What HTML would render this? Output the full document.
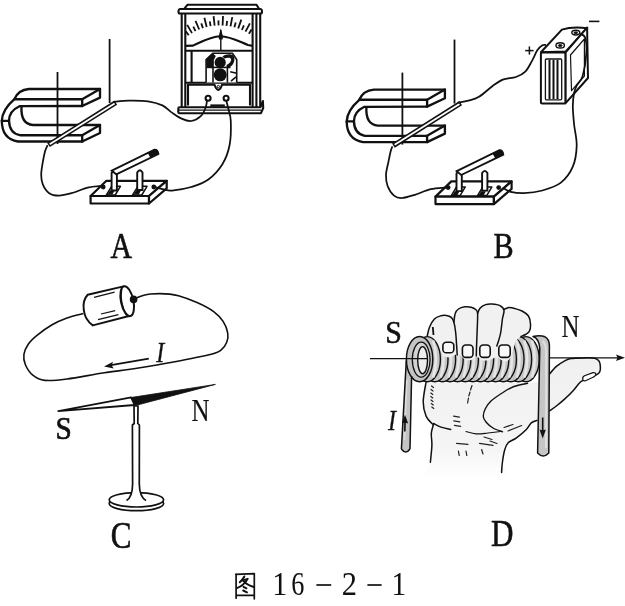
<!DOCTYPE html>
<html><head><meta charset="utf-8"><style>
html,body{margin:0;padding:0;background:#fff;}
svg{display:block;will-change:transform;}
text{font-family:"Liberation Serif",serif;}
</style></head><body>
<svg width="625" height="606" viewBox="0 0 625 606">
<g id="pa">
<g fill="none" stroke="#111" stroke-width="2.35" stroke-linejoin="round" stroke-linecap="round">
<path d="M100,89 L29,89 Q18,90 14.4,99.2 Q2,110 1.8,121 Q2,139 18,141.5 L82.5,141.5"/>
<path d="M14.4,99.2 L82.2,99.2"/>
<path d="M82.2,99.2 L100,89 L100,97.6 L82.2,106 Z"/>
<path d="M82.2,106 L19.5,106.2 Q9,111 9,120.8 Q9.5,133.5 20,135.2 L82.2,135.2"/>
<path d="M21.5,106.5 Q20.5,124 33,125 L100,125"/>
<path d="M82.2,135.2 L100,125 L100,133 L82.2,141.5 Z"/>
<path d="M1.8,120.8 L9,120.8"/>
</g>
<g stroke="#111" stroke-width="1.8"><line x1="57.5" y1="72" x2="57.5" y2="144"/><line x1="109.6" y1="39" x2="109.6" y2="103"/></g>
<line x1="115.8" y1="102.6" x2="48.5" y2="145" stroke="#111" stroke-width="5" />
<line x1="114.6" y1="103.4" x2="49.7" y2="144.2" stroke="#fff" stroke-width="1.8" />
<g fill="#fff" stroke="#111" stroke-width="2.2" stroke-linejoin="round">
<path d="M106.4,180.8 L166.7,180.8 L149,196 L90.6,196 Z"/>
<path d="M90.6,196 L149,196 L149,203.5 L90.6,203.5 Z"/>
<path d="M149,196 L166.7,180.8 L166.7,188.3 L149,203.5 Z"/>
</g>
<g fill="#fff" stroke="#111" stroke-width="1.5" stroke-linejoin="round"><path d="M106.4,195 L111.6,186.3 L120.4,186.3 L115.2,195 Z"/><path d="M132.6,195 L137.9,186.3 L147,186.3 L141.8,195 Z"/></g>
<g fill="#111"><path d="M107.6,194.6 L109.8,190.6 L114.6,190.6 L112.4,194.6 Z"/><path d="M133.8,194.6 L136,190.6 L141,190.6 L138.8,194.6 Z"/></g>
<g fill="#fff" stroke="#111" stroke-width="1.9">
<path d="M111.6,190.5 L111.6,173 Q114.2,168.6 116.9,173 L116.9,190.5 Z"/>
<path d="M137.2,190 L137.2,172.5 Q139.9,168 142.5,172.5 L142.5,190 Z"/>
<path d="M111.8,170.6 L154.5,149.6 Q157.8,149.5 158.4,154 L116.3,174.4 Z"/>
</g>
<path d="M147.6,152.8 L155.2,149.2 Q158.2,149.6 158.6,154 L150.5,158 Z" fill="#111"/>
<circle cx="103.2" cy="187" r="2.4" fill="#111"/><circle cx="153.8" cy="187" r="2.4" fill="#111"/>
</g>
<g fill="none" stroke="#111" stroke-width="2.1" stroke-linejoin="round">
<path d="M184.2,8.8 L187.4,4.8 L256.5,4.8 L259,8.8" fill="#fff"/>
<path d="M180,9 L260.5,9 Q262,9.2 262,11 L262,12 Q262,13.5 260.5,13.5 L180,13.5 Q178.5,13.5 178.5,12 L178.5,11 Q178.5,9.2 180,9 Z" fill="#fff"/>
<line x1="181.7" y1="13.5" x2="181.7" y2="107"/>
<line x1="185.3" y1="13.5" x2="185.3" y2="107"/>
<line x1="252.6" y1="13.5" x2="252.6" y2="107"/>
<line x1="256.4" y1="13.5" x2="256.4" y2="107"/>
<line x1="260.2" y1="13.5" x2="260.2" y2="107"/>
<path d="M185.3,45.9 L193,45.6 C200,42.5 210,36.5 220.4,36.2 C231,36.5 240,42 248,45 L252.6,45.9"/>
<line x1="185.3" y1="50.8" x2="252.6" y2="50.8"/>
<line x1="191.6" y1="50.8" x2="191.6" y2="82.6"/>
<line x1="185.3" y1="82.8" x2="252.6" y2="82.8"/>
<path d="M188,105.5 L188,84.8 L214.5,84.8 Q216,89.5 218.3,90 Q220.6,89.5 222,84.8 L250,84.8 L250,105.5"/>
<circle cx="218.3" cy="86.6" r="1.2" stroke-width="1"/>
<circle cx="208.1" cy="98.3" r="2.5"/><circle cx="226.1" cy="98.3" r="2.5"/>
<path d="M179.5,107.2 L260.5,107.2 L262.9,101 L263.2,108 L261,113.2 L179.5,113.2 Q178.3,113.2 178.3,112 L178.3,108.4 Q178.3,107.2 179.5,107.2 Z" fill="#fff"/>
<line x1="178.5" y1="110.2" x2="261" y2="110.2" stroke-width="1.3"/>
</g>
<rect x="210.3" y="104.4" width="14.5" height="2.4" fill="#111"/>
<g stroke="#111" stroke-width="1.6" stroke-linejoin="round" fill="none">
<path d="M206.1,82.6 L206.1,59.5 L213,53.2 L232.4,53.2 L236.7,59.5 L236.7,82.6" fill="#fff"/>
<line x1="213" y1="60.5" x2="213" y2="82.6"/><line x1="227.4" y1="67.4" x2="227.4" y2="82.6"/>
<line x1="207" y1="67.4" x2="230.5" y2="67.4"/>
<path d="M230.2,71.8 L236.7,73.2 M231,81.1 L236,76.8"/>
</g>
<g fill="#111">
<path d="M206.3,59.5 L213,53.4 L215.8,56 L213.6,60.5 L212.8,68.2 L206.6,67.5 Z"/>
<path d="M222.5,56.5 C225,54.5 230,53.6 232.6,55 C235,57 235,61 233,64 C231.5,66.5 229,67.8 226.8,67.8 L226.5,65 C229,64 231,62 231.2,59.5 C231,57.5 228,57 224.5,58.5 Z"/>
<circle cx="220.2" cy="62.4" r="5.6"/>
<circle cx="220.2" cy="74.8" r="6.5"/>
</g>
<g stroke="#111" stroke-width="1.8"><line x1="188.7" y1="35.3" x2="185.8" y2="31.2"/><line x1="192.0" y1="33.1" x2="187.2" y2="24.9"/><line x1="195.5" y1="31.2" x2="193.3" y2="26.7"/><line x1="199.2" y1="29.5" x2="195.5" y2="20.8"/><line x1="202.9" y1="28.1" x2="201.3" y2="23.4"/><line x1="206.7" y1="27.0" x2="204.4" y2="17.8"/><line x1="210.6" y1="26.2" x2="209.8" y2="21.3"/><line x1="214.6" y1="25.7" x2="213.6" y2="16.2"/><line x1="218.6" y1="25.4" x2="218.4" y2="20.4"/><line x1="222.6" y1="25.5" x2="223.0" y2="16.0"/><line x1="226.5" y1="25.8" x2="227.1" y2="20.8"/><line x1="230.5" y1="26.4" x2="232.3" y2="17.1"/><line x1="234.4" y1="27.3" x2="235.7" y2="22.5"/><line x1="238.2" y1="28.5" x2="241.3" y2="19.6"/><line x1="241.9" y1="30.0" x2="243.9" y2="25.4"/><line x1="245.5" y1="31.7" x2="249.9" y2="23.3"/><line x1="248.9" y1="33.7" x2="251.6" y2="29.5"/></g>
<line x1="220.8" y1="30" x2="220.8" y2="50.5" stroke="#111" stroke-width="1.4"/>
<path d="M220.8,28.2 L223,36.5 L222.6,39.6 L219,39.6 L218.6,36.5 Z" fill="#111"/>
<g fill="none" stroke="#111" stroke-width="1.75"><path d="M113.2,101.8 C115.8,101.6 123.0,100.7 128.8,100.6 C134.6,100.5 142.4,100.5 148.0,101.3 C153.6,102.1 158.4,103.5 162.4,105.4 C166.4,107.3 168.8,110.4 172.0,112.6 C175.2,114.8 178.4,117.2 181.6,118.6 C184.8,120.0 188.0,121.4 191.2,121.0 C194.4,120.6 198.4,118.4 200.8,116.2 C203.2,114.0 204.6,110.4 205.6,107.8 C206.6,105.2 206.8,101.8 207.0,100.6"/><path d="M226.2,100.6 C226.6,102.0 227.6,105.6 228.4,109.0 C229.2,112.4 230.6,115.0 230.8,121.0 C231.0,127.0 231.0,137.8 229.6,145.0 C228.2,152.2 226.0,158.4 222.4,164.2 C218.8,170.0 213.2,176.0 208.0,179.8 C202.8,183.6 197.2,185.2 191.2,187.0 C185.2,188.8 176.6,190.2 172.0,190.6 C167.4,191.0 166.3,190.0 163.6,189.4 C160.9,188.8 157.1,187.6 155.8,187.2"/><path d="M47.6,145.2 C47.2,146.1 46.0,148.0 45.2,150.8 C44.4,153.6 43.5,158.0 42.8,162.0 C42.1,166.0 41.2,171.1 41.2,174.8 C41.2,178.5 41.5,181.3 42.8,184.4 C44.1,187.5 46.5,191.3 49.2,193.2 C51.9,195.1 55.1,195.6 58.8,195.6 C62.5,195.6 66.8,194.5 71.6,193.2 C76.4,191.9 82.8,188.8 87.6,187.6 C92.4,186.4 97.8,186.2 100.4,186.0 C103.0,185.8 102.9,186.3 103.4,186.4"/></g>
<use href="#pa" transform="translate(344.9,0.6)"/>
<g stroke="#111" stroke-width="2.0" stroke-linejoin="round" fill="#fff">
<path d="M540.9,52.2 L561.9,29.6 Q572,26.4 587.3,28.2 L565.6,51.6 Z"/>
<path d="M565.4,52.6 L587.1,27.5 L588,78 L565.4,103.4 Z"/>
<path d="M570.5,55 L584.4,39 L584.4,76.2 L571.5,90.7 Z" fill="none" stroke-width="1.2"/>
<rect x="540.9" y="52.6" width="24.5" height="50.8" rx="1.5"/>
<rect x="545.4" y="59" width="16.3" height="40.8" rx="1" fill="none" stroke-width="1.3"/>
<line x1="549.5" y1="60" x2="549.5" y2="99"/>
<line x1="553.5" y1="60" x2="553.5" y2="99"/>
<line x1="557.5" y1="60" x2="557.5" y2="99"/>
<ellipse cx="560.2" cy="45.4" rx="4.2" ry="2.6" fill="#fff" stroke-width="1.4"/>
<ellipse cx="560.2" cy="45.6" rx="1.9" ry="1.1" fill="#111" stroke-width="0.8"/>
<ellipse cx="575.8" cy="32.6" rx="4" ry="2.4" fill="#fff" stroke-width="1.4"/>
<ellipse cx="575.8" cy="32.8" rx="1.8" ry="1" fill="#111" stroke-width="0.8"/>
</g>
<g stroke="#111" stroke-width="1.5"><line x1="525.2" y1="50.6" x2="533.6" y2="50.6"/><line x1="529.4" y1="46.4" x2="529.4" y2="54.6"/><line x1="589" y1="21.4" x2="599.4" y2="21.4" stroke-width="1.6"/></g>
<g fill="none" stroke="#111" stroke-width="1.75"><path d="M457.9,102.6 C459.7,102.3 465.0,101.7 468.5,100.7 C472.0,99.7 475.0,99.2 479.0,96.8 C483.0,94.4 488.3,89.1 492.3,86.2 C496.3,83.3 498.9,81.1 502.8,79.6 C506.8,78.1 512.2,78.3 516.0,77.0 C519.8,75.7 522.6,74.4 525.3,71.7 C527.9,69.0 529.9,64.6 531.9,61.1 C533.9,57.6 535.4,53.2 537.1,50.6 C538.9,48.0 540.9,46.2 542.4,45.3 C543.9,44.4 545.4,45.0 546.0,45.0"/><path d="M580.0,33.6 C580.9,34.3 584.3,34.5 585.3,38.0 C586.3,41.5 586.7,48.0 586.2,54.4 C585.8,60.8 584.1,71.1 582.6,76.2 C581.1,81.3 578.4,82.2 577.0,85.0 C575.6,87.8 574.8,89.3 574.1,92.8 C573.4,96.3 572.8,100.7 572.8,106.0 C572.8,111.3 573.5,117.9 574.1,124.5 C574.8,131.1 576.9,138.6 576.7,145.6 C576.5,152.6 575.4,160.5 572.8,166.7 C570.2,172.9 566.0,178.6 560.9,182.6 C555.8,186.6 548.6,188.7 542.4,190.5 C536.2,192.3 529.2,193.0 523.9,193.2 C518.6,193.4 514.2,192.7 510.7,191.8 C507.2,190.9 504.1,188.6 502.8,187.9"/><path d="M392.4,146.4 C392.1,147.1 391.5,148.2 390.8,150.8 C390.1,153.4 389.2,158.0 388.4,162.0 C387.6,166.0 386.1,170.8 386.0,174.8 C385.9,178.8 386.3,182.5 387.6,186.0 C388.9,189.5 391.6,193.6 394.0,195.6 C396.4,197.6 398.5,198.1 402.0,198.0 C405.5,197.9 410.0,196.3 414.8,194.8 C419.6,193.3 425.7,190.4 430.8,189.2 C435.9,188.0 442.3,187.9 445.2,187.6 C448.1,187.3 447.9,187.6 448.4,187.6"/></g>
<text transform="translate(110.4,258.4) scale(0.83,1)" font-family="Liberation Serif" font-size="36" fill="#111" stroke="#111" stroke-width="0.6">A</text>
<text transform="translate(493.4,258.4) scale(0.84,1)" font-family="Liberation Serif" font-size="36" fill="#111" stroke="#111" stroke-width="0.6">B</text>
<text transform="translate(110.8,548.0) scale(0.84,1)" font-family="Liberation Serif" font-size="37" fill="#111" stroke="#111" stroke-width="0.6">C</text>
<text transform="translate(491.0,546.4) scale(0.84,1)" font-family="Liberation Serif" font-size="37" fill="#111" stroke="#111" stroke-width="0.6">D</text>
<path d="M132.7,299.4 C135.6,298.5 142.7,294.6 150.3,294.0 C157.9,293.4 167.9,292.9 178.5,295.8 C189.1,298.8 205.5,305.5 213.7,311.7 C221.9,317.9 226.5,326.4 227.7,332.8 C228.9,339.2 226.0,346.3 220.7,350.4 C215.4,354.5 209.4,354.6 196.0,357.5 C182.6,360.4 155.3,365.2 140.0,367.8 C124.7,370.4 116.4,370.9 104.2,372.8 C92.0,374.7 76.9,377.7 67.0,379.0 C57.1,380.3 50.4,381.0 44.7,380.4 C39.0,379.8 36.0,377.8 32.8,375.2 C29.6,372.6 26.9,368.3 25.4,364.8 C23.9,361.3 23.4,357.9 23.9,354.4 C24.4,350.9 26.2,347.2 28.4,344.0 C30.6,340.8 33.3,338.3 37.3,335.1 C41.2,331.9 47.1,327.6 52.1,324.7 C57.1,321.8 61.8,319.9 67.0,318.0 C72.2,316.1 80.6,314.3 83.3,313.6" fill="none" stroke="#111" stroke-width="1.6"/>
<g stroke="#111" stroke-width="2.0" fill="#fff" stroke-linejoin="round">
<path d="M87.7,294.7 L123.5,286.4 L130,315.8 L92.8,325.4 Q85,320 83.8,310 Q82.5,300 87.7,294.7 Z"/>
<ellipse cx="127.2" cy="301.2" rx="6.2" ry="15.2" transform="rotate(-12 127.2 301.2)"/>
<path d="M121.8,288.5 Q119.5,303 126.5,315.2" fill="none" stroke-width="1.2"/>
</g>
<g stroke="#111" stroke-width="1.2"><line x1="94" y1="297.3" x2="114.6" y2="292.2"/><line x1="101" y1="314" x2="115.2" y2="310.7"/><line x1="98" y1="319.7" x2="118.4" y2="314.6"/></g>
<circle cx="133.6" cy="299.4" r="3.8" fill="#111"/>
<line x1="148.8" y1="358.7" x2="108" y2="365.7" stroke="#111" stroke-width="1.8"/>
<path d="M104,366.4 L113.2,361.8 L111.5,365.2 L113.8,368.6 Z" fill="#111"/>
<text transform="translate(156.3,361.8) scale(0.8,1)" font-family="Liberation Serif" font-size="30" font-style="italic" fill="#111" stroke="#111" stroke-width="0.3">I</text>
<path d="M58.3,411.1 L131.2,397.4 L134.5,405 Z" fill="#fff" stroke="#111" stroke-width="1.8" stroke-linejoin="round"/>
<path d="M130.5,397.6 L215.4,384.4 L135.5,405.5 Z" fill="#111" stroke="#111" stroke-width="0.8" stroke-linejoin="round"/>
<g stroke="#111" stroke-width="1.7" fill="#fff">
<ellipse cx="136.4" cy="503.5" rx="27.2" ry="7.2"/>
<ellipse cx="136.4" cy="499.8" rx="27.2" ry="7.2"/>
<path d="M126.5,500.5 Q132.5,497 132.6,484 L132.4,425 L134.2,423.5 L134,406 L138,406 L137.8,423.5 L139.4,425 L139.3,484 Q139.5,497 146,500.5" />
</g>
<text transform="translate(55.6,438.8) scale(0.93,1)" font-family="Liberation Serif" font-size="31.5" fill="#111" stroke="#111" stroke-width="0.7">S</text>
<text transform="translate(191.6,421.4) scale(0.79,1)" font-family="Liberation Serif" font-size="31.5" fill="#111" stroke="#111" stroke-width="0.2">N</text>
<text transform="translate(272.3,595.1) scale(0.87,1)" font-family="Liberation Serif" font-size="34.6" fill="#111">1</text><text transform="translate(291.2,595.1) scale(0.76,1)" font-family="Liberation Serif" font-size="34.6" fill="#111">6</text><text transform="translate(341.8,595.1) scale(0.88,1)" font-family="Liberation Serif" font-size="34.6" fill="#111">2</text><text transform="translate(391.5,595.1) scale(0.85,1)" font-family="Liberation Serif" font-size="34.6" fill="#111">1</text>
<g stroke="#111" stroke-width="1.7"><line x1="316.4" y1="585" x2="331.2" y2="585"/><line x1="367.4" y1="585" x2="381.6" y2="585"/></g>
<g fill="none" stroke="#111" stroke-width="1.7" stroke-linecap="round" stroke-linejoin="round"><path d="M236.1,574.2 L236.1,598.2 M235.6,574.3 L254.3,573.6 L254.3,598.8 M236.1,595.3 L254.3,595.3"/><path d="M244.3,576.5 Q242.5,580 239.8,582.3" stroke-width="2"/><path d="M241.6,580.6 L247.7,578.8 Q244,585.5 236.9,588.2" stroke-width="1.9"/><path d="M243.4,580.8 Q247,585 253.8,587" stroke-width="1.9"/><path d="M243.5,586.8 L246.4,588.3 M243.2,590.5 L247,592.3" stroke-width="2"/></g>
<defs><linearGradient id="hg" x1="0" y1="0" x2="0" y2="1"><stop offset="0" stop-color="#f0f0f0"/><stop offset="0.75" stop-color="#f5f5f5"/><stop offset="1" stop-color="#ffffff"/></linearGradient></defs>
<path d="M426.1,384.0 C423.3,387.1 423.2,396.3 423.2,401.7 C423.2,407.1 424.4,412.2 426.1,416.1 C427.8,420.0 432.4,421.9 433.3,424.8 C434.2,427.7 431.5,430.0 431.3,433.4 C431.1,436.8 432.0,440.1 431.9,444.9 C431.8,449.7 430.6,456.7 430.4,462.2 C430.2,467.7 418.6,475.4 430.5,478.0 C442.4,480.6 489.6,480.6 501.6,478.0 C513.6,475.4 501.8,467.3 502.4,462.5 C502.9,457.7 503.9,452.6 504.9,449.3 C505.9,446.0 506.3,444.6 508.2,442.7 C510.1,440.8 513.5,440.0 516.5,437.8 C519.5,435.6 523.9,432.0 526.4,429.5 C528.9,427.0 529.5,424.4 531.3,422.9 C533.1,421.4 533.9,422.4 537.0,420.4 C540.1,418.3 546.6,413.0 549.8,410.6 C553.0,408.2 554.0,407.9 556.4,406.0 C558.8,404.1 561.4,402.0 564.3,399.4 C567.2,396.8 571.0,393.1 573.6,390.2 C576.2,387.3 578.2,384.0 580.2,382.2 C582.2,380.4 583.6,380.6 585.4,379.6 C587.1,378.6 588.9,377.0 590.7,376.2 C592.6,375.4 595.0,375.5 596.5,374.8 C598.0,374.1 599.0,373.4 599.6,372.2 C600.2,371.0 600.5,369.3 600.4,367.5 C600.3,365.7 600.2,363.1 599.3,361.5 C598.3,359.9 597.2,358.8 594.7,358.2 C592.2,357.6 588.0,357.8 584.0,357.9 C580.0,358.0 574.2,358.1 570.9,358.6 C567.6,359.1 566.7,359.8 564.3,361.1 C561.9,362.4 558.8,364.3 556.4,366.4 C554.0,368.5 552.3,371.3 549.6,373.9 C546.9,376.5 548.3,380.5 540.0,382.0 C531.7,383.5 516.7,382.8 500.0,383.0 C483.3,383.2 452.3,382.8 440.0,383.0 C427.7,383.2 428.9,380.9 426.1,384.0 Z" fill="url(#hg)" stroke="none"/>
<g fill="none" stroke="#111" stroke-width="1.5" stroke-linecap="round">
<path d="M426.1,382.0 C425.6,385.3 423.2,396.0 423.2,401.7 C423.2,407.4 424.4,412.2 426.1,416.1 C427.8,420.0 432.1,423.4 433.3,424.8"/>
<path d="M433.3,425.0 C433.0,426.4 431.5,430.1 431.3,433.4 C431.1,436.7 432.0,440.1 431.9,444.9 C431.8,449.7 430.6,459.3 430.4,462.2"/>
<path d="M537.0,420.4 C536.0,420.8 533.1,421.4 531.3,422.9 C529.5,424.4 528.9,427.0 526.4,429.5 C523.9,432.0 519.5,435.6 516.5,437.8 C513.5,440.0 510.1,440.8 508.2,442.7 C506.3,444.6 505.9,446.0 504.9,449.3 C503.9,452.6 502.9,458.6 502.4,462.5 C501.8,466.4 501.7,470.8 501.6,472.4"/>
<path d="M549.8,410.6 C550.9,409.8 554.0,407.9 556.4,406.0 C558.8,404.1 561.4,402.0 564.3,399.4 C567.2,396.8 571.0,393.1 573.6,390.2 C576.2,387.3 578.2,384.0 580.2,382.2 C582.2,380.4 583.6,380.6 585.4,379.6 C587.1,378.6 588.9,377.0 590.7,376.2 C592.6,375.4 595.0,375.5 596.5,374.8 C598.0,374.1 599.0,373.4 599.6,372.2 C600.2,371.0 600.5,369.3 600.4,367.5 C600.3,365.7 600.2,363.1 599.3,361.5 C598.3,359.9 597.2,358.8 594.7,358.2 C592.2,357.6 588.0,357.8 584.0,357.9 C580.0,358.0 574.2,358.1 570.9,358.6 C567.6,359.1 566.7,359.8 564.3,361.1 C561.9,362.4 558.8,364.3 556.4,366.4 C554.0,368.5 550.7,372.6 549.6,373.9"/>
</g>
<path d="M582.8,379.6 Q582.2,377 584.5,375.8 L593,372.6 Q596,372.4 595.8,374.8 Q595,376.8 592,377.8 L585.5,380.8 Q583.5,381.4 582.8,379.6 Z" fill="#fff" stroke="#111" stroke-width="1.2"/>
<g stroke="#222" stroke-width="1.2" fill="none" stroke-linecap="round">
<line x1="431.5" y1="386" x2="433.5" y2="387.5"/>
<line x1="431" y1="389.5" x2="433" y2="391"/>
<line x1="430.8" y1="393" x2="432.8" y2="394.5"/>
<line x1="430.8" y1="396.5" x2="432.8" y2="398"/>
<line x1="431" y1="400" x2="433" y2="401.5"/>
<line x1="431.3" y1="403.5" x2="433.3" y2="405"/>
<line x1="431.8" y1="407" x2="433.8" y2="408.5"/>
<line x1="472" y1="385.5" x2="470.5" y2="390"/>
<line x1="470" y1="392" x2="468.8" y2="396"/>
<line x1="468.5" y1="398" x2="467.6" y2="403"/>
<line x1="453.6" y1="416.2" x2="459.4" y2="417.2"/>
<line x1="453.8" y1="420.8" x2="459.8" y2="421.8"/>
<line x1="454.4" y1="425.4" x2="460.6" y2="426.4"/>
<line x1="456.5" y1="443.3" x2="468" y2="444.3"/>
<line x1="458.4" y1="451" x2="459.2" y2="455.5"/>
<line x1="466" y1="451" x2="466.8" y2="455.5"/>
<line x1="479.5" y1="443.3" x2="493" y2="445.3"/>
<line x1="481.6" y1="449.5" x2="483" y2="454"/>
<line x1="504" y1="427.5" x2="513" y2="424.5"/>
<line x1="508" y1="431" x2="521.7" y2="425.5"/>
<line x1="484" y1="437" x2="492" y2="439.5"/>
<line x1="490" y1="441" x2="497" y2="443.5"/>
</g>
<g stroke="#111" stroke-width="1.4" fill="none" stroke-linecap="round">
<path d="M527.5,383.3 C525.2,383.8 517.8,385.1 514.0,386.5 C510.2,387.9 508.3,389.1 504.5,391.5 C500.7,393.9 494.2,398.1 491.0,401.0 C487.8,403.9 486.6,406.2 485.3,408.8 C484.0,411.4 483.2,414.3 483.3,416.5 C483.4,418.7 484.6,420.3 486.2,422.2 C487.8,424.1 490.3,426.4 493.0,428.0 C495.7,429.6 500.9,431.2 502.5,431.8"/>
<path d="M433.5,423.5 C434.8,424.1 438.1,426.2 441.0,427.2 C443.9,428.2 449.1,429.1 450.7,429.5"/>
<path d="M466.0,431.5 C467.7,431.9 472.3,433.6 476.0,433.8 C479.7,434.1 483.9,433.4 488.0,433.0 C492.1,432.6 498.5,431.8 500.6,431.5" stroke-width="1.2"/>
</g>
<ellipse cx="526.00" cy="359.2" rx="13.2" ry="22.6" fill="#c6c6c6" stroke="#111" stroke-width="1.4"/><path d="M532.0,340.5 Q537.4,359 532.0,377.5" fill="none" stroke="#e6e6e6" stroke-width="2.6"/>
<ellipse cx="518.40" cy="359.2" rx="13.2" ry="22.6" fill="#c6c6c6" stroke="#111" stroke-width="1.4"/><path d="M524.4,340.5 Q529.8,359 524.4,377.5" fill="none" stroke="#e6e6e6" stroke-width="2.6"/>
<ellipse cx="510.80" cy="359.2" rx="13.2" ry="22.6" fill="#c6c6c6" stroke="#111" stroke-width="1.4"/><path d="M516.8,340.5 Q522.2,359 516.8,377.5" fill="none" stroke="#e6e6e6" stroke-width="2.6"/>
<ellipse cx="503.20" cy="359.2" rx="13.2" ry="22.6" fill="#c6c6c6" stroke="#111" stroke-width="1.4"/><path d="M509.2,340.5 Q514.6,359 509.2,377.5" fill="none" stroke="#e6e6e6" stroke-width="2.6"/>
<ellipse cx="495.60" cy="359.2" rx="13.2" ry="22.6" fill="#c6c6c6" stroke="#111" stroke-width="1.4"/><path d="M501.6,340.5 Q507.0,359 501.6,377.5" fill="none" stroke="#e6e6e6" stroke-width="2.6"/>
<ellipse cx="488.00" cy="359.2" rx="13.2" ry="22.6" fill="#c6c6c6" stroke="#111" stroke-width="1.4"/><path d="M494.0,340.5 Q499.4,359 494.0,377.5" fill="none" stroke="#e6e6e6" stroke-width="2.6"/>
<ellipse cx="480.40" cy="359.2" rx="13.2" ry="22.6" fill="#c6c6c6" stroke="#111" stroke-width="1.4"/><path d="M486.4,340.5 Q491.8,359 486.4,377.5" fill="none" stroke="#e6e6e6" stroke-width="2.6"/>
<ellipse cx="472.80" cy="359.2" rx="13.2" ry="22.6" fill="#c6c6c6" stroke="#111" stroke-width="1.4"/><path d="M478.8,340.5 Q484.2,359 478.8,377.5" fill="none" stroke="#e6e6e6" stroke-width="2.6"/>
<ellipse cx="465.20" cy="359.2" rx="13.2" ry="22.6" fill="#c6c6c6" stroke="#111" stroke-width="1.4"/><path d="M471.2,340.5 Q476.6,359 471.2,377.5" fill="none" stroke="#e6e6e6" stroke-width="2.6"/>
<ellipse cx="457.60" cy="359.2" rx="13.2" ry="22.6" fill="#c6c6c6" stroke="#111" stroke-width="1.4"/><path d="M463.6,340.5 Q469.0,359 463.6,377.5" fill="none" stroke="#e6e6e6" stroke-width="2.6"/>
<ellipse cx="450.00" cy="359.2" rx="13.2" ry="22.6" fill="#c6c6c6" stroke="#111" stroke-width="1.4"/><path d="M456.0,340.5 Q461.4,359 456.0,377.5" fill="none" stroke="#e6e6e6" stroke-width="2.6"/>
<ellipse cx="442.40" cy="359.2" rx="13.2" ry="22.6" fill="#c6c6c6" stroke="#111" stroke-width="1.4"/><path d="M448.4,340.5 Q453.8,359 448.4,377.5" fill="none" stroke="#e6e6e6" stroke-width="2.6"/>
<ellipse cx="434.80" cy="359.2" rx="13.2" ry="22.6" fill="#c6c6c6" stroke="#111" stroke-width="1.4"/><path d="M440.8,340.5 Q446.2,359 440.8,377.5" fill="none" stroke="#e6e6e6" stroke-width="2.6"/>
<path d="M427.2,335.0 C426.6,332.7 428.4,329.7 429.6,327.0 C430.8,324.3 432.5,320.9 434.4,319.0 C436.3,317.1 438.8,316.4 440.8,315.8 C442.8,315.2 444.7,315.2 446.4,315.5 C448.1,315.8 449.7,317.7 451.2,317.4 C452.7,317.1 454.0,315.0 455.2,313.6 C456.4,312.2 456.8,310.1 458.4,309.0 C460.0,307.9 462.7,307.1 464.8,306.8 C466.9,306.5 469.3,306.7 471.2,307.2 C473.1,307.7 474.5,309.6 476.0,309.8 C477.5,310.0 478.4,309.1 480.0,308.2 C481.6,307.3 483.6,305.3 485.6,304.6 C487.6,303.9 489.6,303.8 492.0,304.0 C494.4,304.2 498.0,304.5 500.0,305.6 C502.0,306.7 502.5,310.1 504.0,310.4 C505.5,310.7 507.0,307.9 508.8,307.6 C510.6,307.3 512.6,307.9 514.8,308.5 C517.0,309.1 519.7,309.8 522.0,311.0 C524.3,312.2 527.1,313.8 528.5,316.0 C529.9,318.2 530.3,321.5 530.5,324.0 C530.7,326.5 530.3,329.2 529.5,331.0 C528.7,332.8 527.2,333.3 525.5,334.5 C523.8,335.7 520.8,336.6 519.0,338.0 C517.2,339.4 516.0,341.0 515.0,343.0 C514.0,345.0 514.1,347.1 513.0,350.0 C511.9,352.9 510.1,358.8 508.2,360.5 C506.3,362.2 503.7,360.8 501.8,360.2 C499.9,359.6 499.1,357.0 497.0,357.0 C494.9,357.0 491.4,359.7 489.0,360.2 C486.6,360.7 484.6,360.7 482.6,360.2 C480.6,359.7 478.9,357.1 477.0,357.0 C475.1,356.9 473.4,359.5 471.4,359.9 C469.4,360.3 466.9,360.2 465.0,359.4 C463.1,358.6 461.5,355.8 460.0,355.0 C458.5,354.2 457.8,354.3 456.2,354.6 C454.6,354.9 452.6,356.7 450.6,357.0 C448.6,357.3 446.1,357.5 444.2,356.2 C442.3,354.9 440.9,351.5 439.0,349.0 C437.1,346.5 435.0,343.3 433.0,341.0 C431.0,338.7 427.8,337.3 427.2,335.0 Z" fill="#f1f1f1" stroke="none"/>
<g fill="none" stroke="#111" stroke-width="1.5" stroke-linecap="round">
<path d="M427.2,336.0 C427.6,334.5 428.4,329.8 429.6,327.0 C430.8,324.2 432.5,320.9 434.4,319.0 C436.3,317.1 438.8,316.4 440.8,315.8 C442.8,315.2 444.7,315.2 446.4,315.5 C448.1,315.8 449.9,316.3 451.2,317.4 C452.4,318.5 453.2,319.8 453.9,322.2 C454.6,324.6 455.2,328.2 455.6,332.0 C456.1,335.8 456.3,341.2 456.6,345.0 C456.9,348.8 457.1,353.3 457.2,355.0"/>
<path d="M453.9,322.2 C454.1,320.8 454.4,315.8 455.2,313.6 C455.9,311.4 456.8,310.1 458.4,309.0 C460.0,307.9 462.7,307.1 464.8,306.8 C466.9,306.5 469.3,306.7 471.2,307.2 C473.1,307.7 474.9,308.8 476.0,309.8 C477.1,310.8 477.4,310.5 477.6,313.4 C477.8,316.3 477.5,321.7 477.3,327.0 C477.1,332.3 476.8,340.2 476.6,345.0 C476.4,349.8 476.4,354.2 476.3,356.0"/>
<path d="M477.6,313.4 C478.0,312.5 478.7,309.7 480.0,308.2 C481.3,306.7 483.6,305.3 485.6,304.6 C487.6,303.9 489.6,303.8 492.0,304.0 C494.4,304.2 498.0,304.5 500.0,305.6 C502.0,306.7 503.6,308.2 504.0,310.4 C504.4,312.6 502.9,315.4 502.4,319.0 C501.9,322.6 501.4,328.3 500.8,332.0 C500.2,335.7 499.2,338.7 498.5,341.0 C497.8,343.3 497.1,345.2 496.8,346.0"/>
<path d="M504.0,309.4 C504.8,309.1 507.0,307.8 508.8,307.6 C510.6,307.5 512.6,307.9 514.8,308.5 C517.0,309.1 519.7,309.8 522.0,311.0 C524.3,312.2 527.1,313.8 528.5,316.0 C529.9,318.2 530.3,321.5 530.5,324.0 C530.7,326.5 530.3,329.2 529.5,331.0 C528.7,332.8 526.9,333.6 525.5,334.5 C524.1,335.4 521.8,336.2 521.0,336.5"/>
</g>
<rect x="442.90000000000003" y="342.20000000000005" width="10.9" height="10.6" rx="3.4" fill="#f8f8f8" stroke="#111" stroke-width="1.6"/>
<rect x="462.40000000000003" y="345.0" width="10.6" height="12.4" rx="3.4" fill="#f8f8f8" stroke="#111" stroke-width="1.6"/>
<rect x="479.8" y="345.0" width="10.4" height="12.4" rx="3.4" fill="#f8f8f8" stroke="#111" stroke-width="1.6"/>
<rect x="498.8" y="345.0" width="11.4" height="12.4" rx="3.4" fill="#f8f8f8" stroke="#111" stroke-width="1.6"/>
<path d="M432.8,327 L433.5,335" stroke="#111" stroke-width="1.8"/>
<path d="M401.4,449 L406.3,360.5 L414,362 L411.6,376 L410,449 Q405.7,455 401.4,449 Z" fill="#c4c4c4" stroke="none"/>
<path d="M404.4,440 L406.8,380" fill="none" stroke="#dcdcdc" stroke-width="1.6"/>
<ellipse cx="427.20" cy="359.2" rx="13.2" ry="22.6" fill="#c6c6c6" stroke="#111" stroke-width="1.4"/><path d="M433.2,340.5 Q438.6,359 433.2,377.5" fill="none" stroke="#e6e6e6" stroke-width="2.6"/>
<ellipse cx="419.6" cy="359.2" rx="13.2" ry="22.6" fill="#c4c4c4" stroke="#111" stroke-width="1.5"/>
<ellipse cx="421.2" cy="359.6" rx="8.9" ry="17.5" fill="#d2d2d2" stroke="#111" stroke-width="1.3"/>
<ellipse cx="422.6" cy="360.2" rx="4.9" ry="13.6" fill="#ededed" stroke="#111" stroke-width="1.4"/>
<path d="M401.4,449 L406.3,360.5 M410,449 L411.6,376 M401.4,449 Q405.7,455 410,449" fill="none" stroke="#111" stroke-width="1.5"/>
<path d="M537.6,453 L539.8,348 Q539,338.5 533,336.5 Q540,334.8 545,336.8 Q549.4,339 549.4,346 L548.8,453 Q543.2,459 537.6,453 Z" fill="#c6c6c6" stroke="#111" stroke-width="1.5" stroke-linejoin="round"/>
<path d="M542.6,341 Q546,344 546.2,352 L546,448" fill="none" stroke="#dedede" stroke-width="2"/>
<path d="M405,414.8 L408.2,423.5 L405.9,422.8 L405.6,431.5 L404,431.5 L404.2,422.8 L401.9,423.5 Z" fill="#111"/>
<path d="M542.7,438.5 L545.9,429.5 L543.5,430.2 L543.5,417.5 L541.9,417.5 L541.9,430.2 L539.5,429.5 Z" fill="#111"/>
<g stroke="#111" stroke-width="1.3"><line x1="370" y1="358.7" x2="427.4" y2="358.7"/><line x1="549.5" y1="357.8" x2="618" y2="357.8"/></g>
<path d="M625,357.8 L616,354.6 L617.5,357.8 L616,361 Z" fill="#111"/>
<text transform="translate(385.2,342.6) scale(0.95,1)" font-family="Liberation Serif" font-size="31.5" fill="#111" stroke="#111" stroke-width="0.6">S</text>
<text transform="translate(561.4,336.8) scale(0.79,1)" font-family="Liberation Serif" font-size="31.5" fill="#111" stroke="#111" stroke-width="0.2">N</text>
<text transform="translate(387.9,429.8) scale(0.8,1)" font-family="Liberation Serif" font-size="30" font-style="italic" fill="#111" stroke="#111" stroke-width="0.3">I</text>
</svg>
</body></html>
